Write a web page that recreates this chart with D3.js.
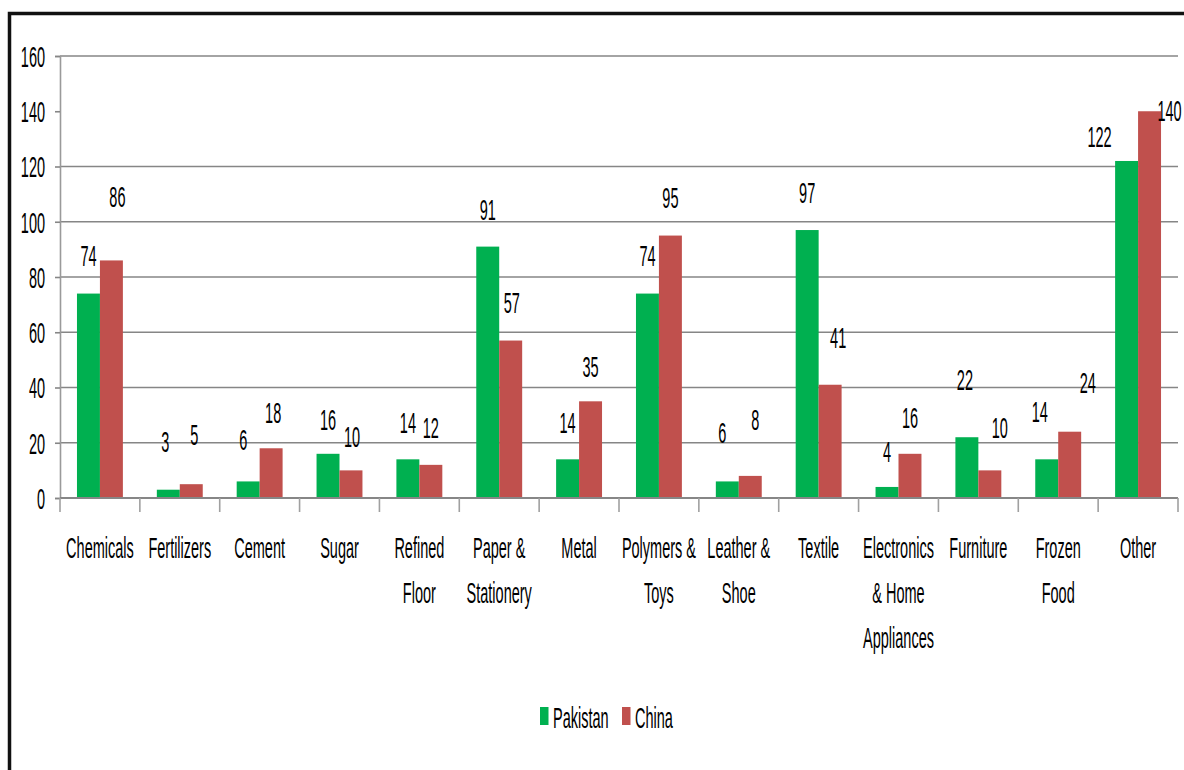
<!DOCTYPE html>
<html>
<head>
<meta charset="utf-8">
<script src="https://cdn.jsdelivr.net/npm/d3@7"></script>
<style>
html,body{margin:0;padding:0;background:#fff;overflow:hidden;}
svg{display:block;}
text{font-family:"Liberation Sans",Arial,sans-serif;fill:#000;}
</style>
</head>
<body>
<svg id="chart" width="1184" height="770"></svg>
<script>
(function(){
// ---- data ----
const categories = ["Chemicals","Fertilizers","Cement","Sugar","Refined Floor","Paper & Stationery","Metal","Polymers & Toys","Leather & Shoe","Textile","Electronics & Home Appliances","Furniture","Frozen Food","Other"];
const categoryLines = [["Chemicals"],["Fertilizers"],["Cement"],["Sugar"],["Refined","Floor"],["Paper &","Stationery"],["Metal"],["Polymers &","Toys"],["Leather &","Shoe"],["Textile"],["Electronics","& Home","Appliances"],["Furniture"],["Frozen","Food"],["Other"]];
const seriesNames = ["Pakistan","China"];
const pakistan = [74,3,6,16,14,91,14,74,6,97,4,22,14,122];
const china = [86,5,18,10,12,57,35,95,8,41,16,10,24,140];
const yTicks = [0,20,40,60,80,100,120,140,160];

// ---- layout / style (not data) ----
const colors = ["#00B050","#C0504D"];
// label nudges [dx, dy] in px relative to bar-top centre
const nudgePak = [[0,-38],[-3,-48],[-5,-41],[0,-34],[0,-36],[0,-37],[0,-36],[0,-38],[-5,-48],[0,-37],[0,-35],[-2,-57],[-7,-47],[-27,-24]];
const nudgeChn = [[6,-63],[3,-49],[2,-35],[1,-33],[0,-37],[1,-38],[0,-34],[0,-38],[5,-56],[8,-47],[0,-36],[10,-42],[18,-49],[20,0]];
const FS = 29, SX = 0.5;

const svg = d3.select("#chart");
const pLeft = 60, pRight = 1178, pTop = 56, pBottom = 498;

const x0 = d3.scaleBand().domain(categories).range([pLeft,pRight]).paddingInner(0.425).paddingOuter(0.2125);
const x1 = d3.scaleBand().domain(seriesNames).range([0,x0.bandwidth()]);
const y = d3.scaleLinear().domain([0,160]).range([pBottom,pTop]);

// frame
svg.append("rect").attr("x",9.5).attr("y",13.5).attr("width",1250).attr("height",800)
  .attr("fill","none").attr("stroke","#111").attr("stroke-width",3.5);

// gridlines
svg.append("g").selectAll("line").data(yTicks.filter(t=>t!==0 && t!==140)).join("line")
  .attr("x1",pLeft).attr("x2",pRight).attr("y1",d=>y(d)).attr("y2",d=>y(d))
  .attr("stroke","#868686").attr("stroke-width",1.6);

// y axis
const yAxis = svg.append("g").attr("transform",`translate(${pLeft},0)`)
  .call(d3.axisLeft(y).tickValues(yTicks).tickSize(5).tickPadding(25));
yAxis.select(".domain").attr("stroke","#9a9a9a").attr("stroke-width",1.6);
yAxis.selectAll(".tick line").attr("stroke","#868686").attr("stroke-width",1.6);
yAxis.selectAll(".tick text").attr("font-size",FS).attr("font-family","Liberation Sans, Arial, sans-serif")
  .attr("fill","#000").attr("transform",`scale(${SX},1)`).attr("dy","0.36em");

// bars
const groups = svg.append("g").selectAll("g").data(categories).join("g")
  .attr("transform",d=>`translate(${x0(d)},0)`);
groups.selectAll("rect").data((d,i)=>[pakistan[i],china[i]].map((v,k)=>({k,v})))
  .join("rect")
  .attr("x",d=>x1(seriesNames[d.k])).attr("width",x1.bandwidth())
  .attr("y",d=>y(d.v)).attr("height",d=>y(0)-y(d.v))
  .attr("fill",d=>colors[d.k]);

// x axis line
svg.append("line").attr("x1",pLeft).attr("x2",pRight).attr("y1",pBottom).attr("y2",pBottom)
  .attr("stroke","#868686").attr("stroke-width",2);
// boundary ticks
const gap = (x0.step()-x0.bandwidth())/2;
const bounds = categories.map(c=>x0(c)-gap).concat([pRight]);
svg.append("g").selectAll("line").data(bounds).join("line")
  .attr("x1",d=>d).attr("x2",d=>d).attr("y1",pBottom).attr("y2",pBottom+14)
  .attr("stroke","#a0a0a0").attr("stroke-width",1.6);

// category labels
const catG = svg.append("g").selectAll("g").data(categories).join("g")
  .attr("transform",d=>`translate(${x0(d)+x0.bandwidth()/2},558) scale(${SX},1)`);
catG.each(function(d,i){
  const g = d3.select(this);
  categoryLines[i].forEach((ln,j)=>{
    g.append("text").attr("y",j*45).attr("text-anchor","middle").attr("font-size",FS).text(ln);
  });
});

// data labels
function addLabels(vals,k,nudge){
  svg.append("g").selectAll("text").data(vals).join("text")
    .attr("transform",(v,i)=>{
      const cx = x0(categories[i]) + x1(seriesNames[k]) + x1.bandwidth()/2 + nudge[i][0];
      const cy = y(v) + nudge[i][1] + 10;
      return `translate(${cx},${cy}) scale(${SX},1)`;
    })
    .attr("text-anchor","middle").attr("font-size",FS).text(v=>v);
}
addLabels(pakistan,0,nudgePak);
addLabels(china,1,nudgeChn);

// legend
const legend = svg.append("g");
const legX = [540,622];
seriesNames.forEach((s,k)=>{
  legend.append("rect").attr("x",legX[k]).attr("y",707).attr("width",8.5).attr("height",18).attr("fill",colors[k]);
  legend.append("text").attr("transform",`translate(${legX[k]+13},728) scale(${SX},1)`)
    .attr("font-size",FS).text(s);
});
})();
</script>
</body>
</html>
